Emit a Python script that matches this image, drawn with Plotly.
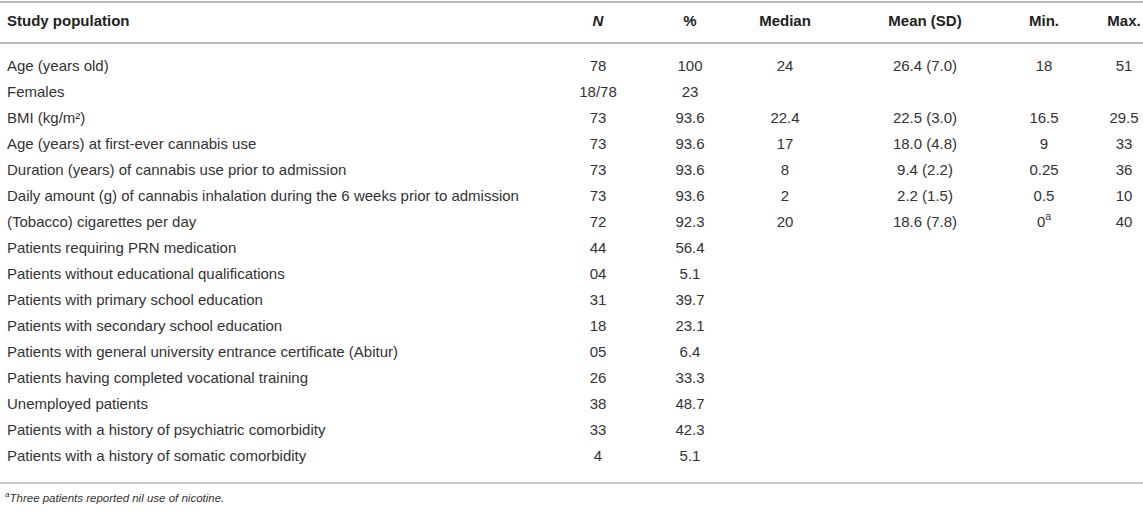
import plotly.graph_objects as go

# ---------------- data ----------------
headers = ["<b>Study population</b>", "<b><i>N</i></b>", "<b>%</b>", "<b>Median</b>",
           "<b>Mean (SD)</b>", "<b>Min.</b>", "<b>Max.</b>"]

labels = [
    "Age (years old)",
    "Females",
    "BMI (kg/m²)",
    "Age (years) at first-ever cannabis use",
    "Duration (years) of cannabis use prior to admission",
    "Daily amount (g) of cannabis inhalation during the 6 weeks prior to admission",
    "(Tobacco) cigarettes per day",
    "Patients requiring PRN medication",
    "Patients without educational qualifications",
    "Patients with primary school education",
    "Patients with secondary school education",
    "Patients with general university entrance certificate (Abitur)",
    "Patients having completed vocational training",
    "Unemployed patients",
    "Patients with a history of psychiatric comorbidity",
    "Patients with a history of somatic comorbidity",
]
n_vals = ["78", "18/78", "73", "73", "73", "73", "72", "44", "04", "31", "18", "05",
          "26", "38", "33", "4"]
pct_vals = ["100", "23", "93.6", "93.6", "93.6", "93.6", "92.3", "56.4", "5.1", "39.7",
            "23.1", "6.4", "33.3", "48.7", "42.3", "5.1"]
median_vals = ["24", "", "22.4", "17", "8", "2", "20"]
mean_vals = ["26.4 (7.0)", "", "22.5 (3.0)", "18.0 (4.8)", "9.4 (2.2)", "2.2 (1.5)",
             "18.6 (7.8)"]
min_vals = ["18", "", "16.5", "9", "0.25", "0.5", "0<sup>a</sup>"]
max_vals = ["51", "", "29.5", "33", "36", "10", "40"]
footnote = "<i><sup>a</sup>Three patients reported nil use of nicotine.</i>"

# ---------------- layout constants ----------------
W, H = 1143, 511
ROW0_PX, PITCH = 67.0, 26.0          # pixel centre of first row, row pitch
HEADER_PX = 22.0
TOP_LINE_PX, HEAD_LINE_PX, BOT_LINE_PX = 2.0, 43.0, 483.0
FOOT_PX = 499.0

col_x = [7, 598, 690, 785, 925, 1044, 1124]   # first col left edge, others centres
TXT = "#333333"
FONT = "Liberation Sans, Arial, Helvetica, sans-serif"
LINE = "#b8b8b8"
FS = 15

def row_y(px):
    return (px - ROW0_PX) / PITCH

fig = go.Figure()

# header row
fig.add_trace(go.Scatter(
    x=col_x, y=[row_y(HEADER_PX)] * len(col_x), mode="text",
    text=headers,
    textposition=["middle right"] + ["middle center"] * (len(col_x) - 1),
    textfont=dict(family=FONT, size=FS, color="#222222"),
    hoverinfo="skip", showlegend=False))

columns = [labels, n_vals, pct_vals, median_vals, mean_vals, min_vals, max_vals]
for ci, vals in enumerate(columns):
    rows = [i for i, v in enumerate(vals) if v]
    fig.add_trace(go.Scatter(
        x=[col_x[ci]] * len(rows), y=rows, mode="text",
        text=[vals[i] for i in rows],
        textposition="middle right" if ci == 0 else "middle center",
        textfont=dict(family=FONT, size=FS, color=TXT),
        hoverinfo="skip", showlegend=False))

# footnote
fig.add_trace(go.Scatter(
    x=[col_x[0] - 2], y=[row_y(FOOT_PX)], mode="text", text=[footnote],
    textposition="middle right",
    textfont=dict(family=FONT, size=11.5, color=TXT),
    hoverinfo="skip", showlegend=False))

for px, w in [(TOP_LINE_PX, 2), (HEAD_LINE_PX, 2), (BOT_LINE_PX, 1.5)]:
    fig.add_shape(type="line", xref="x", yref="y", x0=0, x1=W,
                  y0=row_y(px), y1=row_y(px), line=dict(color=LINE, width=w))

fig.update_xaxes(range=[0, W], visible=False, fixedrange=True)
fig.update_yaxes(range=[row_y(H), row_y(0)], visible=False, fixedrange=True)
fig.update_layout(width=W, height=H, margin=dict(l=0, r=0, t=0, b=0),
                  paper_bgcolor="white", plot_bgcolor="white")

fig.write_html("out.html", config={"displayModeBar": False},
               post_script="document.body.style.margin='0';"
                           "document.body.style.overflow='hidden';")
